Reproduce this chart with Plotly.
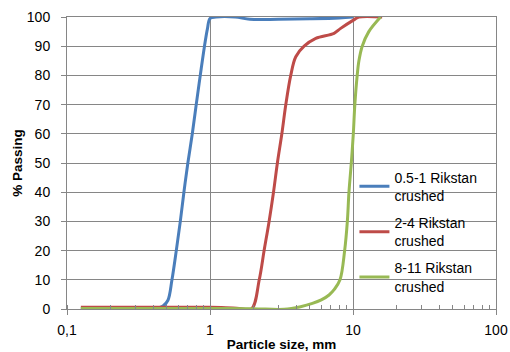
import plotly.graph_objects as go

# Particle size distribution (sieve passing curves)
size_fine = [0.125, 0.25, 0.40, 0.422, 0.469, 0.508, 0.542, 0.581, 0.620, 0.657, 0.700,
             0.752, 0.801, 0.855, 0.915, 0.96, 1.0, 1.1, 1.5, 1.9, 3.0, 5.0, 8.0, 10.0]
pass_fine = [0, 0, 0, 0.2, 1, 3, 10, 20, 30, 40, 50,
             60, 70, 80, 90, 96, 99.5, 100, 100, 99.2, 99.2, 99.4, 99.7, 100]

size_mid = [0.125, 0.25, 0.5, 1.0, 1.2, 1.6, 1.95, 2.21, 2.39, 2.59, 2.78, 2.96,
            3.18, 3.39, 3.67, 3.98, 4.55, 5.49, 7.37, 8.2, 10.2, 11.0, 16.0]
pass_mid = [0.6, 0.6, 0.6, 0.6, 0.5, 0.2, 0, 10, 20, 30, 40, 50,
            60, 70, 80, 86.4, 90, 92.7, 94.4, 96.1, 99.1, 100, 100]

size_coarse = [0.125, 0.5, 1.0, 2.0, 3.3, 4.3, 5.2, 6.0, 6.8, 7.4, 8.11, 8.74, 9.13, 9.37,
               9.73, 10.05, 10.3, 10.7, 11.0, 11.6, 12.9, 15.6]
pass_coarse = [0.2, 0.2, 0.2, 0.1, -0.1, 0.8, 1.9, 3.1, 4.8, 6.7, 10, 20, 30, 40,
               50, 60, 70, 80, 85, 90, 95, 100]

series_names = ["0.5-1 Rikstan<br>crushed", "2-4 Rikstan<br>crushed", "8-11 Rikstan<br>crushed"]
series_colors = ["#4A7EBB", "#BE4B48", "#98B954"]

x_tickvals = [0.1, 1, 10, 100]
x_ticktext = ["0,1", "1", "10", "100"]
y_tickvals = [0, 10, 20, 30, 40, 50, 60, 70, 80, 90, 100]

FONT = "Liberation Sans"
GRID = "#868686"

fig = go.Figure()
for i, (xs, ys, name, color) in enumerate(zip([size_fine, size_mid, size_coarse],
                                              [pass_fine, pass_mid, pass_coarse],
                                              series_names, series_colors)):
    fig.add_trace(go.Scatter(x=xs, y=ys, mode="lines", name=name, legendgroup=f"g{i}",
                             line=dict(color=color, width=3, shape="spline", smoothing=1.0)))

fig.update_layout(
    width=510, height=352,
    margin=dict(l=67, r=14, t=17, b=43),
    paper_bgcolor="white", plot_bgcolor="white",
    font=dict(family=FONT, size=14, color="#000000"),
    legend=dict(x=0.67, y=0.505, xanchor="left", yanchor="top",
                bgcolor="rgba(0,0,0,0)", font=dict(size=14),
                tracegroupgap=6),
    showlegend=True,
)

fig.update_xaxes(
    type="log", range=[-1, 2],
    tickvals=x_tickvals, ticktext=x_ticktext,
    showgrid=True, gridcolor=GRID, gridwidth=1,
    showline=True, linecolor=GRID, linewidth=1, mirror=True,
    ticks="outside", ticklen=5, tickcolor=GRID, ticklabelstandoff=3,
    minor=dict(ticks="inside", ticklen=4, tickcolor=GRID, showgrid=False, dtick="D1"),
    title=dict(text="<b>Particle size, mm</b>", font=dict(size=13.5), standoff=7),
    zeroline=False, automargin=False,
)
fig.update_yaxes(
    range=[0, 100], tickvals=y_tickvals,
    showgrid=True, gridcolor=GRID, gridwidth=1,
    showline=True, linecolor=GRID, linewidth=1, mirror=True,
    ticks="outside", ticklen=5, tickcolor=GRID, ticklabelstandoff=8,
    title=dict(text="<b>% Passing</b>", font=dict(size=13.5), standoff=1),
    zeroline=False, automargin=False,
)

fig.write_html("out.html")
